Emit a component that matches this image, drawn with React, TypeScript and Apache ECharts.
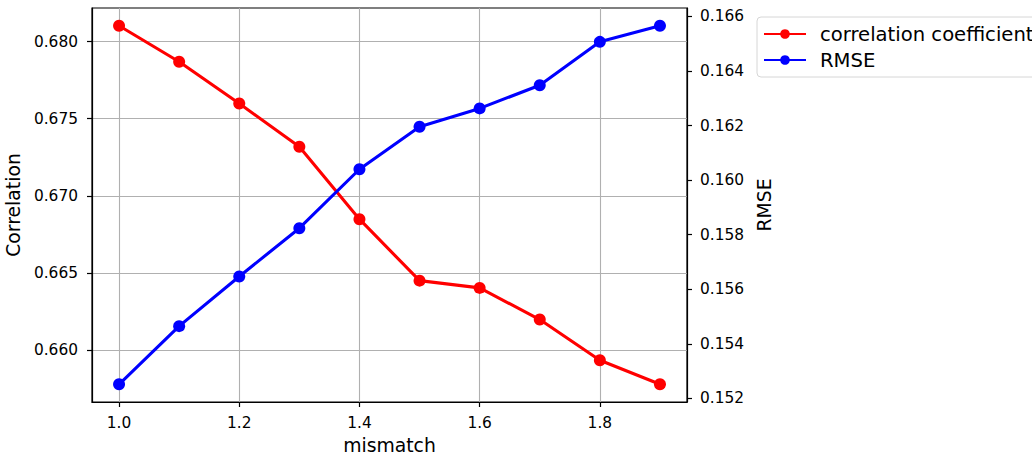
import React, { useEffect, useRef } from "react";
import * as echarts from "echarts";

const mismatch = [1.0, 1.1, 1.2, 1.3, 1.4, 1.5, 1.6, 1.7, 1.8, 1.9];
const correlation = [0.68102, 0.67869, 0.67598, 0.67318, 0.66849, 0.66451, 0.66404, 0.66199, 0.65935, 0.6578];
const rmse = [0.15252, 0.15465, 0.15647, 0.15824, 0.1604, 0.16196, 0.16263, 0.16348, 0.16507, 0.16566];
const xTicks = [1.0, 1.2, 1.4, 1.6, 1.8];
const corrTicks = [0.66, 0.665, 0.67, 0.675, 0.68];
const rmseTicks = [0.152, 0.154, 0.156, 0.158, 0.16, 0.162, 0.164, 0.166];

const FONT = "DejaVu Sans";

export default function App() {
  const ref = useRef<HTMLDivElement>(null);
  useEffect(() => {
    document.body.style.margin = "0";
    const chart = echarts.init(ref.current!, null, { renderer: "svg" });
    const tickLabel = { fontFamily: FONT, fontSize: 15.4, color: "#000" };
    const nameStyle = { fontFamily: FONT, fontSize: 18.8, color: "#000" };
    const axisLine = { show: true, lineStyle: { color: "#000", width: 1.2 } };
    const axisTick = (vals: number[]) => ({
      show: true,
      inside: false,
      length: 5,
      customValues: vals,
      lineStyle: { color: "#000", width: 1.2 },
    });
    chart.setOption({
      animation: false,
      backgroundColor: "#fff",
      grid: {
        left: 92,
        top: 8,
        right: 345,
        bottom: 55,
        containLabel: false,
        outerBoundsMode: "none",
        show: true,
        borderColor: "#000",
        borderWidth: 1.2,
        backgroundColor: "transparent",
      },
      legend: {
        orient: "vertical",
        left: 757,
        top: 17,
        padding: [7, 8, 7, 6],
        itemWidth: 42,
        itemHeight: 12,
        itemGap: 6,
        backgroundColor: "#fff",
        borderColor: "#d6d6d6",
        borderWidth: 1,
        borderRadius: 4,
        textStyle: { fontFamily: FONT, fontSize: 19.6, color: "#000", padding: [0, 0, 0, 9] },
        data: ["correlation coefficient", "RMSE"],
      },
      xAxis: {
        type: "value",
        min: 0.955,
        max: 1.945,
        name: "mismatch",
        nameLocation: "middle",
        nameGap: 34,
        nameTextStyle: nameStyle,
        axisLine,
        axisTick: axisTick(xTicks),
        axisLabel: {
          ...tickLabel,
          margin: 13,
          customValues: xTicks,
          formatter: (v: number) => v.toFixed(1),
        },
        splitLine: { show: true, lineStyle: { color: "#b0b0b0", width: 1.1 } },
      },
      yAxis: [
        {
          type: "value",
          position: "left",
          min: 0.65665,
          max: 0.68217,
          name: "Correlation",
          nameLocation: "middle",
          nameRotate: 90,
          nameGap: 68,
          nameTextStyle: nameStyle,
          axisLine,
          axisTick: axisTick(corrTicks),
          axisLabel: {
            ...tickLabel,
            margin: 14,
            customValues: corrTicks,
            formatter: (v: number) => v.toFixed(3),
          },
          splitLine: { show: true, lineStyle: { color: "#b0b0b0", width: 1.1 } },
        },
        {
          type: "value",
          position: "right",
          min: 0.15187,
          max: 0.16631,
          name: "RMSE",
          nameLocation: "middle",
          nameRotate: 90,
          nameGap: 66,
          nameTextStyle: nameStyle,
          axisLine,
          axisTick: axisTick(rmseTicks),
          axisLabel: {
            ...tickLabel,
            margin: 13,
            customValues: rmseTicks,
            formatter: (v: number) => v.toFixed(3),
          },
          splitLine: { show: false },
        },
      ],
      series: [
        {
          name: "correlation coefficient",
          type: "line",
          yAxisIndex: 0,
          data: mismatch.map((x, i) => [x, correlation[i]]),
          symbol: "circle",
          symbolSize: 12,
          color: "#ff0000",
          lineStyle: { color: "#ff0000", width: 3.1 },
          itemStyle: { color: "#ff0000" },
        },
        {
          name: "RMSE",
          type: "line",
          yAxisIndex: 1,
          data: mismatch.map((x, i) => [x, rmse[i]]),
          symbol: "circle",
          symbolSize: 12,
          color: "#0000ff",
          lineStyle: { color: "#0000ff", width: 3.1 },
          itemStyle: { color: "#0000ff" },
        },
      ],
    });
    return () => chart.dispose();
  }, []);
  return <div ref={ref} style={{ width: 1032, height: 457 }} />;
}
